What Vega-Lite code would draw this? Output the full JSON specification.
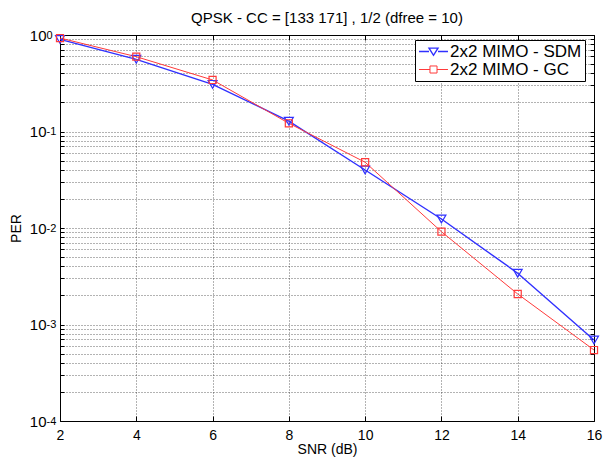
{
  "$schema": "https://vega.github.io/schema/vega-lite/v6.json",
  "width": 534,
  "height": 386,
  "autosize": {"type": "none"},
  "padding": {"left": 60, "top": 35, "right": 9, "bottom": 41},
  "background": "white",
  "title": {"text": "QPSK - CC = [133 171] , 1/2 (dfree = 10)", "fontSize": 15, "font": "Liberation Sans", "fontWeight": "normal", "color": "#000", "offset": 2},
  "config": {"view": {"stroke": "#000", "strokeWidth": 1}, "font": "Liberation Sans"},
  "data": {"values": [
    {"snr": 2, "per": 0.90, "series": "2x2 MIMO - SDM"},
    {"snr": 4, "per": 0.56, "series": "2x2 MIMO - SDM"},
    {"snr": 6, "per": 0.308, "series": "2x2 MIMO - SDM"},
    {"snr": 8, "per": 0.128, "series": "2x2 MIMO - SDM"},
    {"snr": 10, "per": 0.0399, "series": "2x2 MIMO - SDM"},
    {"snr": 12, "per": 0.0124, "series": "2x2 MIMO - SDM"},
    {"snr": 14, "per": 0.0034, "series": "2x2 MIMO - SDM"},
    {"snr": 16, "per": 0.00069, "series": "2x2 MIMO - SDM"},
    {"snr": 2, "per": 0.93, "series": "2x2 MIMO - GC"},
    {"snr": 4, "per": 0.596, "series": "2x2 MIMO - GC"},
    {"snr": 6, "per": 0.342, "series": "2x2 MIMO - GC"},
    {"snr": 8, "per": 0.1216, "series": "2x2 MIMO - GC"},
    {"snr": 10, "per": 0.048, "series": "2x2 MIMO - GC"},
    {"snr": 12, "per": 0.00916, "series": "2x2 MIMO - GC"},
    {"snr": 14, "per": 0.00207, "series": "2x2 MIMO - GC"},
    {"snr": 16, "per": 0.000544, "series": "2x2 MIMO - GC"}
  ]},
  "resolve": {"axis": {"x": "independent", "y": "independent"}},
  "layer": [
    {"mark": {"type": "line"},
     "encoding": {
      "x": {"field": "snr", "type": "quantitative",
        "scale": {"domain": [2, 16], "nice": false, "zero": false},
        "axis": {"values": [2, 4, 6, 8, 10, 12, 14, 16], "title": "SNR (dB)", "titleFontSize": 14, "titleFontWeight": "normal", "titleColor": "#000", "titlePadding": 0,
          "labelFontSize": 14, "labelColor": "#000", "labelFlush": false, "labelOverlap": false, "labelPadding": 12,
          "grid": true, "gridDash": [1, 2], "gridColor": "#000", "gridOpacity": 0.6,
          "domain": false, "tickSize": -5, "tickColor": "#000"}},
      "y": {"field": "per", "type": "quantitative",
        "scale": {"type": "log", "domain": [0.0001, 1], "nice": false},
        "axis": {"values": [0.0001,0.0002,0.0003,0.0004,0.0005,0.0006,0.0007,0.0008,0.0009,0.001,0.002,0.003,0.004,0.005,0.006,0.007,0.008,0.009,0.01,0.02,0.03,0.04,0.05,0.06,0.07,0.08,0.09,0.1,0.2,0.3,0.4,0.5,0.6,0.7,0.8,0.9,1],
          "labelExpr": "abs(log(datum.value)/LN10 - round(log(datum.value)/LN10)) < 0.001 ? '10' : ''",
          "title": "PER", "titleFontSize": 14, "titleFontWeight": "normal", "titleColor": "#000", "titlePadding": 6,
          "labelFontSize": 15, "labelColor": "#000", "labelFlush": false, "labelOverlap": false, "labelPadding": 18, "labelDy": -1,
          "grid": true, "gridDash": [1, 2], "gridColor": "#000", "gridOpacity": 0.6,
          "domain": false, "tickSize": -4, "tickColor": "#000"}},
      "color": {"field": "series", "type": "nominal",
        "scale": {"domain": ["2x2 MIMO - SDM", "2x2 MIMO - GC"], "range": ["#3030ff", "#ff3a3a"]},
        "legend": {"orient": "none", "legendX": 355, "legendY": 5, "title": null,
          "labelFontSize": 17, "labelColor": "#000", "labelFont": "Liberation Sans",
          "strokeColor": "#000", "fillColor": "white", "padding": 3,
          "symbolSize": 225, "symbolOffset": 7, "symbolStrokeWidth": 1.2, "rowPadding": 0, "labelOffset": 8,
          "encode": {"symbols": {"update": {
            "shape": {"signal": "datum.value === '2x2 MIMO - SDM' ? 'M-1.93,0H-0.6M0.6,0H1.93M-0.6,-0.45L0.6,-0.45L0,0.5Z' : 'M-1.93,0H-0.47M0.47,0H1.93M-0.47,-0.47H0.47V0.47H-0.47Z'"},
            "fill": {"value": "transparent"}}}}}},
      "strokeWidth": {"field": "series", "type": "nominal", "scale": {"domain": ["2x2 MIMO - SDM", "2x2 MIMO - GC"], "range": [1.4, 1]}, "legend": null}}},
    {"transform": [{"filter": "datum.series === '2x2 MIMO - SDM'"}],
     "mark": {"type": "point", "shape": "triangle-down", "filled": false, "strokeWidth": 1.2, "opacity": 1, "size": 80, "color": "#3030ff"},
     "encoding": {
      "x": {"field": "snr", "type": "quantitative",
        "axis": {"orient": "top", "values": [2, 4, 6, 8, 10, 12, 14, 16], "labels": false, "title": null, "grid": false, "domain": false, "tickSize": -5, "tickColor": "#000"}},
      "y": {"field": "per", "type": "quantitative",
        "axis": {"orient": "left", "values": [0.0001, 0.001, 0.01, 0.1, 1],
          "labelExpr": "datum.value >= 0.5 ? '0' : '-' + round(-log(datum.value)/LN10)",
          "title": null, "grid": false, "domain": false, "ticks": false,
          "labelFontSize": 11, "labelColor": "#000", "labelAlign": "left", "labelBaseline": "middle", "labelPadding": 14, "labelDy": -7, "labelFlush": false, "labelOverlap": false}}}},
    {"transform": [{"filter": "datum.series === '2x2 MIMO - GC'"}],
     "mark": {"type": "point", "shape": "square", "filled": false, "strokeWidth": 1.2, "opacity": 1, "size": 50, "color": "#ff3a3a"},
     "encoding": {
      "x": {"field": "snr", "type": "quantitative", "axis": null},
      "y": {"field": "per", "type": "quantitative",
        "axis": {"orient": "right", "values": [0.0001,0.0002,0.0003,0.0004,0.0005,0.0006,0.0007,0.0008,0.0009,0.001,0.002,0.003,0.004,0.005,0.006,0.007,0.008,0.009,0.01,0.02,0.03,0.04,0.05,0.06,0.07,0.08,0.09,0.1,0.2,0.3,0.4,0.5,0.6,0.7,0.8,0.9,1],
          "labels": false, "title": null, "grid": false, "domain": false, "tickSize": -4, "tickColor": "#000"}}}}
  ]
}
